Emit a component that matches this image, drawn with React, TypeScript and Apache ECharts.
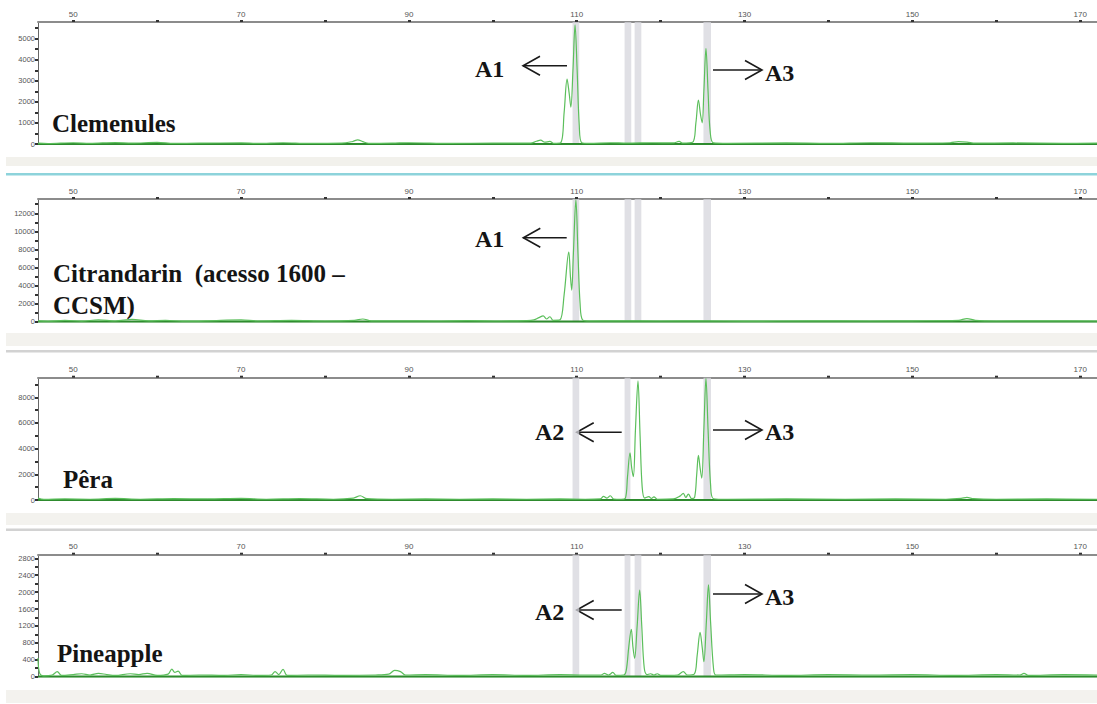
import React, { useEffect, useRef } from "react";
import * as echarts from "echarts";

// ---------- data ----------
const X_MIN = 45.8;
const X_MAX = 172;
const xLabelValues = [50, 70, 90, 110, 130, 150, 170];
const xTickValues = [50, 60, 70, 80, 90, 100, 110, 120, 130, 140, 150, 160, 170];

const sampleNames = ["Clemenules", "Citrandarin  (acesso 1600 –\nCCSM)", "Pêra", "Pineapple"];

const yMaxes = [5790, 13580, 9525, 2885];
const yLabelsP1 = [0, 1000, 2000, 3000, 4000, 5000];
const yTicksP1 = [0, 500, 1000, 1500, 2000, 2500, 3000, 3500, 4000, 4500, 5000, 5500];
const yLabelsP2 = [0, 2000, 4000, 6000, 8000, 10000, 12000];
const yTicksP2 = [0, 1000, 2000, 3000, 4000, 5000, 6000, 7000, 8000, 9000, 10000, 11000, 12000, 13000];
const yLabelsP3 = [0, 2000, 4000, 6000, 8000];
const yTicksP3 = [0, 1000, 2000, 3000, 4000, 5000, 6000, 7000, 8000, 9000];
const yLabelsP4 = [0, 400, 800, 1200, 1600, 2000, 2400, 2800];
const yTicksP4 = [0, 200, 400, 600, 800, 1000, 1200, 1400, 1600, 1800, 2000, 2200, 2400, 2600, 2800];

// allele bins (grey bands)
const binsP1 = [[109.5, 110.3], [115.7, 116.5], [116.9, 117.7], [125.1, 126.0]];
const binsP2 = [[109.5, 110.3], [115.7, 116.5], [116.9, 117.7], [125.1, 126.0]];
const binsP3 = [[109.5, 110.3], [115.7, 116.4], [125.1, 126.0]];
const binsP4 = [[109.5, 110.3], [115.7, 116.4], [116.9, 117.7], [125.1, 126.0]];

// traces: [size (bp), RFU]
const traceP1 = [
  [45.8, 40], [47, 20], [50, 60], [52, 30], [55, 70], [57, 40], [60, 80], [62, 30], [65, 40], [70, 50],
  [72, 30], [75, 60], [78, 30], [82, 40], [83.3, 120], [83.9, 200], [84.5, 110], [85.2, 30], [88, 40],
  [90, 60], [95, 30], [100, 40], [104.5, 40], [105.2, 130], [105.7, 180], [106.2, 90], [106.8, 120],
  [107.3, 30], [108.1, 60], [108.5, 1500], [108.85, 3080], [109.1, 2400], [109.3, 1750], [109.55, 3500],
  [109.8, 5650], [110.05, 3500], [110.3, 900], [110.6, 60], [111.5, 30], [114, 60], [116, 40], [119, 60],
  [121.5, 50], [122.2, 120], [122.6, 40], [123.8, 80], [124.2, 1000], [124.5, 2085], [124.75, 1400],
  [124.95, 1000], [125.15, 2500], [125.4, 4540], [125.65, 2500], [125.9, 600], [126.3, 50], [128, 30],
  [135, 50], [140, 30], [145, 60], [150, 40], [154.5, 60], [155.5, 110], [156.5, 90], [157.5, 40],
  [162, 50], [168, 30], [172, 40],
];
const traceP2 = [
  [45.8, 100], [47, 50], [49, 150], [51, 60], [53, 200], [55, 80], [57, 250], [59, 100], [61, 150], [63, 60],
  [66, 100], [70, 200], [72, 80], [76, 150], [80, 80], [83.5, 150], [84.5, 300], [85.5, 100], [89, 100],
  [93, 80], [97, 120], [101, 80], [104, 120], [104.9, 200], [105.5, 450], [106.0, 650], [106.4, 300],
  [106.8, 550], [107.2, 150], [108.0, 200], [108.5, 3000], [109.05, 7700], [109.25, 5000], [109.4, 3500],
  [109.6, 7500], [109.9, 13500], [110.15, 7500], [110.4, 2000], [110.7, 200], [111.5, 80], [115, 100],
  [120, 80], [125, 100], [130, 60], [138, 100], [145, 80], [150, 100], [155.5, 150], [156.5, 350],
  [157.5, 150], [160, 80], [166, 100], [172, 80],
];
const traceP3 = [
  [45.8, 150], [46.5, 50], [49, 80], [52, 60], [55, 120], [58, 60], [62, 100], [66, 80], [70, 120], [73, 60],
  [77, 100], [81, 60], [83.4, 150], [84.2, 330], [85, 100], [88, 60], [92, 80], [96, 60], [100, 80],
  [104, 60], [108, 80], [111, 60], [112.8, 80], [113.2, 280], [113.6, 150], [114.0, 330], [114.4, 80],
  [115.3, 60], [115.8, 150], [116.05, 1800], [116.35, 3680], [116.55, 2500], [116.75, 1815], [117.0, 5500],
  [117.3, 9270], [117.55, 5000], [117.8, 1000], [118.1, 150], [118.6, 260], [118.9, 120], [119.2, 250],
  [119.6, 60], [121.5, 80], [122.3, 300], [122.7, 520], [123.0, 200], [123.3, 450], [123.7, 100],
  [124.05, 200], [124.3, 2000], [124.5, 3480], [124.7, 2500], [124.9, 1700], [125.15, 5500], [125.4, 9480],
  [125.65, 5500], [125.95, 1200], [126.3, 100], [128, 60], [135, 80], [142, 60], [148, 80], [154, 60],
  [155.8, 120], [156.5, 200], [157.3, 100], [160, 60], [166, 80], [172, 60],
];
const traceP4 = [
  [45.8, 440], [46.0, 80], [46.5, 20], [47.5, 40], [48.1, 120], [48.6, 30], [50, 50], [51, 70], [52, 40],
  [53, 80], [54, 50], [55, 30], [56.8, 70], [57.8, 50], [58.8, 80], [60, 30], [61.3, 60], [61.75, 180],
  [62.1, 100], [62.5, 130], [63, 30], [65, 40], [68, 30], [70, 50], [72, 30], [73.6, 40], [74.05, 120],
  [74.5, 50], [75.0, 175], [75.5, 30], [78, 40], [82, 30], [86, 40], [87.6, 60], [88.3, 150], [89, 120],
  [89.6, 40], [92, 50], [96, 30], [100, 50], [104, 30], [108, 50], [111, 40], [112.9, 40], [113.3, 80],
  [113.8, 40], [114.3, 100], [114.7, 30], [115.6, 40], [115.9, 150], [116.2, 700], [116.5, 1120],
  [116.7, 700], [116.9, 435], [117.2, 1200], [117.5, 2050], [117.75, 1200], [118.05, 200], [118.4, 50],
  [118.8, 70], [119.2, 40], [119.6, 70], [120, 30], [122, 40], [122.7, 120], [123.2, 40], [124.0, 60],
  [124.35, 500], [124.7, 1050], [124.95, 700], [125.15, 355], [125.45, 1300], [125.7, 2170],
  [125.95, 1300], [126.3, 200], [126.6, 40], [130, 50], [135, 30], [140, 50], [145, 40], [150, 50],
  [155, 30], [160, 50], [162.8, 40], [163.3, 80], [163.8, 30], [168, 50], [172, 40],
];

const traces = [traceP1, traceP2, traceP3, traceP4];
const bins = [binsP1, binsP2, binsP3, binsP4];
const yLabels = [yLabelsP1, yLabelsP2, yLabelsP3, yLabelsP4];
const yTicks = [yTicksP1, yTicksP2, yTicksP3, yTicksP4];

// ---------- layout ----------
const GRID_TOPS = [22, 199, 377.7, 554.7];
const GRID_HEIGHTS = [122, 122.7, 122.3, 122];

function arrow(x1: number, x2: number, y: number) {
  const d = x1 > x2 ? 1 : -1;
  const stroke = { stroke: "#1a1a1a", lineWidth: 1.6, fill: "none" };
  return [
    { type: "line", silent: true, shape: { x1, y1: y, x2, y2: y }, style: stroke },
    {
      type: "polyline",
      silent: true,
      shape: { points: [[x2 + d * 17, y - 9.5], [x2, y], [x2 + d * 17, y + 9.5]] },
      style: stroke,
    },
  ];
}

function label(text: string, x: number, y: number, size = 25) {
  return {
    type: "text",
    silent: true,
    x,
    y,
    style: {
      text,
      font: `bold ${size}px "Liberation Serif", "Times New Roman", serif`,
      fill: "#141414",
      verticalAlign: "middle",
      align: "left",
    },
  };
}

export default function App() {
  const ref = useRef<HTMLDivElement>(null);
  useEffect(() => {
    if (!ref.current) return;
    const chart = echarts.init(ref.current, null, { renderer: "svg" });

    const grid = GRID_TOPS.map((top, i) => ({ left: 38, right: 0, top, height: GRID_HEIGHTS[i] }));
    const xAxis = GRID_TOPS.map((_, i) => ({
      type: "value",
      gridIndex: i,
      position: "top",
      min: X_MIN,
      max: X_MAX,
      axisLine: { show: true, onZero: false, lineStyle: { color: "#8c8c8c", width: 2 } },
      axisTick: { show: true, customValues: xTickValues, length: 2, lineStyle: { color: "#333", width: 3 } },
      axisLabel: {
        customValues: xLabelValues,
        fontSize: 8,
        color: "#555",
        margin: 4,
        fontFamily: "Liberation Sans, Arial, sans-serif",
        formatter: (v: number) => String(v),
      },
      splitLine: { show: false },
    }));
    const yAxis = GRID_TOPS.map((_, i) => ({
      type: "value",
      gridIndex: i,
      min: 0,
      max: yMaxes[i],
      axisLine: { show: true, onZero: false, lineStyle: { color: "#666", width: 1 } },
      axisTick: { show: true, customValues: yTicks[i], length: 3, lineStyle: { color: "#333", width: 2 } },
      axisLabel: {
        customValues: yLabels[i],
        fontSize: 7.5,
        color: "#555",
        margin: 3,
        fontFamily: "Liberation Sans, Arial, sans-serif",
        formatter: (v: number) => String(v),
      },
      splitLine: { show: false },
    }));

    const series: any[] = [];
    traces.forEach((tr, i) => {
      series.push({
        type: "line",
        xAxisIndex: i,
        yAxisIndex: i,
        data: [[X_MIN, 0], [X_MAX, 0]],
        symbol: "none",
        silent: true,
        z: 2,
        lineStyle: { color: "#2e8b2e", width: 2.2 },
        markArea: {
          silent: true,
          itemStyle: { color: "rgba(214,214,220,0.75)" },
          data: bins[i].map((b) => [{ xAxis: b[0] }, { xAxis: b[1] }]),
        },
      });
      series.push({
        type: "line",
        xAxisIndex: i,
        yAxisIndex: i,
        data: tr,
        symbol: "none",
        silent: true,
        smooth: 0.35,
        z: 4,
        lineStyle: { color: "#5cbf5c", width: 1.2 },
      });
    });

    const graphic: any[] = [
      // separators
      { type: "rect", silent: true, shape: { x: 6, y: 157, width: 1091, height: 9 }, style: { fill: "#f2f1ec" } },
      { type: "rect", silent: true, shape: { x: 6, y: 173, width: 1091, height: 2.5 }, style: { fill: "#8dd3db" } },
      { type: "rect", silent: true, shape: { x: 6, y: 333, width: 1091, height: 13 }, style: { fill: "#f3f2ee" } },
      { type: "rect", silent: true, shape: { x: 6, y: 350, width: 1091, height: 2.5 }, style: { fill: "#d2d2d2" } },
      { type: "rect", silent: true, shape: { x: 6, y: 513, width: 1091, height: 12 }, style: { fill: "#f3f2ee" } },
      { type: "rect", silent: true, shape: { x: 6, y: 528.5, width: 1091, height: 2.5 }, style: { fill: "#d2d2d2" } },
      { type: "rect", silent: true, shape: { x: 6, y: 690, width: 1091, height: 13 }, style: { fill: "#f3f2ee" } },
      // sample names
      label(sampleNames[0], 52, 123.5),
      label("Citrandarin  (acesso 1600 –", 53, 273.5),
      label("CCSM)", 53, 305.5),
      label(sampleNames[2], 63, 479.5),
      label(sampleNames[3], 57, 653.5),
      // allele labels
      label("A1", 475, 69, 24),
      label("A3", 765, 72.5, 24),
      label("A1", 475, 238.5, 24),
      label("A2", 535, 431.5, 24),
      label("A3", 765, 431.5, 24),
      label("A2", 535, 611.5, 24),
      label("A3", 765, 596.5, 24),
      ...arrow(567, 523, 65.7),
      ...arrow(713, 762, 70),
      ...arrow(566.7, 523.3, 237.7),
      ...arrow(621.7, 576.7, 432.3),
      ...arrow(713, 762, 430),
      ...arrow(621.7, 576.7, 610),
      ...arrow(713, 762, 594),
    ];

    chart.setOption({
      animation: false,
      backgroundColor: "#ffffff",
      grid,
      xAxis,
      yAxis,
      series,
      graphic,
    });
    return () => chart.dispose();
  }, []);

  return (
    <div
      ref={ref}
      style={{ position: "fixed", left: 0, top: 0, width: 1097, height: 704, background: "#fff" }}
    />
  );
}
